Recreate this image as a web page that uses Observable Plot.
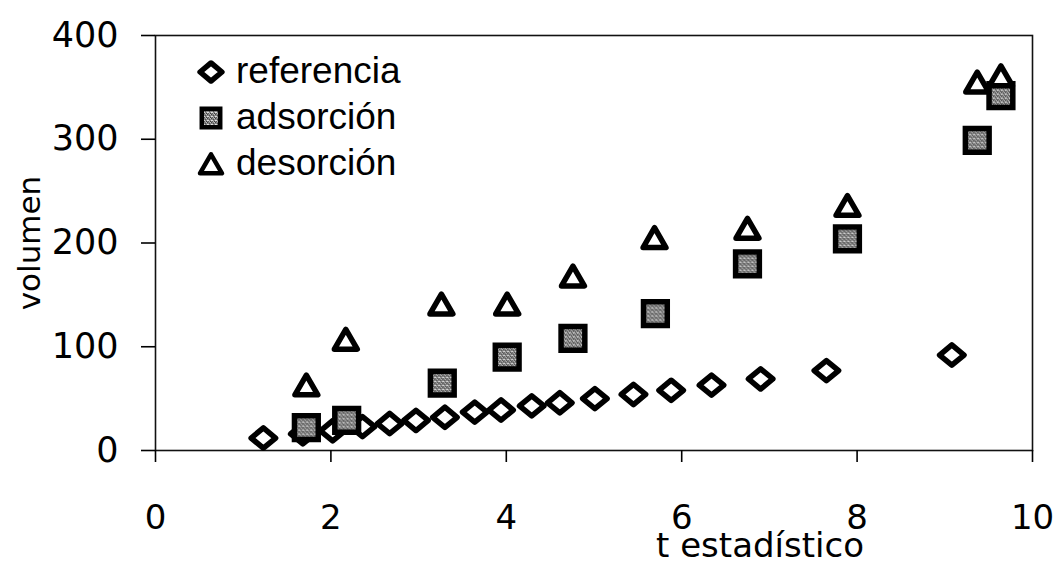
<!DOCTYPE html>
<html>
<head>
<meta charset="utf-8">
<script src="https://cdn.jsdelivr.net/npm/d3@7"></script>
<script src="https://cdn.jsdelivr.net/npm/@observablehq/plot@0.6"></script>
<style>
  html, body { margin: 0; padding: 0; background: #fff; }
  #chart { width: 1055px; height: 566px; }
</style>
</head>
<body>
<div id="chart"></div>
<script>
// t estadístico vs volumen, three series
const referenciaT = [1.23, 1.68, 2.02, 2.36, 2.67, 2.97, 3.30, 3.64, 3.94, 4.29, 4.61, 5.01, 5.45, 5.88, 6.34, 6.90, 7.65, 9.08];
const referenciaV = [12, 16, 19, 23, 26, 29, 32, 37, 39, 43, 46, 50, 54, 58, 63, 69, 77, 92];

const adsorcionT = [1.72, 2.18, 3.27, 4.01, 4.76, 5.70, 6.75, 7.89, 9.37, 9.64];
const adsorcionV = [22, 29, 65, 90, 108, 132, 180, 204, 299, 342];

const desorcionT = [1.72, 2.17, 3.26, 4.01, 4.76, 5.69, 6.75, 7.89, 9.37, 9.64];
const desorcionV = [60, 104, 138, 138, 165, 202, 211, 233, 352, 358];

const seriesNames = ["referencia", "adsorción", "desorción"];
const xTicks = [0, 2, 4, 6, 8, 10];
const yTicks = [0, 100, 200, 300, 400];
const xTitle = "t estadístico";
const yTitle = "volumen";

const toRows = (name, ts, vs) => ts.map((t, i) => ({serie: name, t, v: vs[i]}));
const referencia = toRows(seriesNames[0], referenciaT, referenciaV);
const adsorcion = toRows(seriesNames[1], adsorcionT, adsorcionV);
const desorcion = toRows(seriesNames[2], desorcionT, desorcionV);

// a rhombus slightly wider than tall
const wideDiamond = {
  draw(context, size) {
    const s = Math.sqrt(size);
    const w = s * 0.69, h = s * 0.57;
    context.moveTo(0, -h);
    context.lineTo(w, 0);
    context.lineTo(0, h);
    context.lineTo(-w, 0);
    context.closePath();
  }
};

const tickFont = "'DejaVu Sans', sans-serif";
const titleFont = "'DejaVu Sans', sans-serif";

const plot = Plot.plot({
  width: 1055,
  height: 566,
  marginLeft: 155,
  marginRight: 23,
  marginTop: 35,
  marginBottom: 116,
  style: {background: "#fff", color: "#000", overflow: "visible"},
  x: {domain: [0, 10]},
  y: {domain: [0, 400]},
  marks: [
    Plot.frame({stroke: "#111", strokeWidth: 1.6}),
    Plot.axisY({
      ticks: yTicks, tickSize: 14, tickPadding: 23, tickFormat: d => String(d),
      label: null, fontSize: 35, fontFamily: tickFont, strokeWidth: 1.6
    }),
    Plot.axisX({
      ticks: xTicks, tickSize: 12, tickPadding: 42, tickFormat: d => String(d),
      label: null, fontSize: 34, fontFamily: tickFont, strokeWidth: 1.6
    }),
    Plot.text([xTitle], {
      frameAnchor: "bottom", textAnchor: "middle", lineAnchor: "middle",
      dx: 166, dy: 96, fontSize: 34, letterSpacing: 2, fontFamily: titleFont, fill: "#000"
    }),
    Plot.text([yTitle], {
      frameAnchor: "left", textAnchor: "middle", lineAnchor: "middle", rotate: -90,
      dx: -125, fontSize: 31, fontFamily: titleFont, fill: "#000"
    }),
    Plot.dot(referencia, {
      x: "t", y: "v", symbol: wideDiamond, r: 10,
      stroke: "#000", strokeWidth: 5.5, fill: "#fff", strokeLinejoin: "round"
    }),
    Plot.dot(adsorcion, {
      x: "t", y: "v", symbol: "square", r: 13.4,
      stroke: "#000", strokeWidth: 5.5, fill: "url(#grain)", strokeLinejoin: "miter"
    }),
    Plot.dot(desorcion, {
      x: "t", y: "v", symbol: "triangle", r: 8.5,
      stroke: "#000", strokeWidth: 5.5, fill: "#fff", strokeLinejoin: "round"
    })
  ]
});

const svg = d3.select(plot);

// stippled grey fill used by the adsorción squares
svg.insert("defs", ":first-child").html(`
  <pattern id="grain" width="4" height="4" patternUnits="userSpaceOnUse">
    <rect width="4" height="4" fill="#858585"/>
    <rect x="0" y="0" width="1" height="1" fill="#3f3f3f"/>
    <rect x="2" y="1" width="1" height="1" fill="#4a4a4a"/>
    <rect x="1" y="2" width="1" height="1" fill="#d6d6d6"/>
    <rect x="3" y="3" width="1" height="1" fill="#3a3a3a"/>
    <rect x="3" y="0" width="1" height="1" fill="#c4c4c4"/>
    <rect x="1" y="3" width="1" height="1" fill="#5c5c5c"/>
    <rect x="0" y="2" width="1" height="1" fill="#e2e2e2"/>
    <rect x="2" y="3" width="1" height="1" fill="#b0b0b0"/>
  </pattern>`);

// legend inside the plot area, top left
const legendSymbols = [
  {type: wideDiamond, size: 250, stroke: 5.5, fill: "#fff", join: "round", off: 0},
  {type: d3.symbolSquare, size: 340, stroke: 4.5, fill: "url(#grain)", join: "miter", off: 0},
  {type: d3.symbolTriangle, size: 210, stroke: 4.5, fill: "#fff", join: "round", off: 3}
];
const legend = svg.append("g").attr("transform", "translate(211,72)");
seriesNames.forEach((name, i) => {
  const s = legendSymbols[i];
  const row = legend.append("g").attr("transform", `translate(0,${i * 46})`);
  row.append("path")
    .attr("d", d3.symbol(s.type, s.size)())
    .attr("transform", `translate(0,${s.off})`)
    .attr("fill", s.fill)
    .attr("stroke", "#000")
    .attr("stroke-width", s.stroke)
    .attr("stroke-linejoin", s.join);
  row.append("text")
    .attr("x", 25)
    .attr("dy", "0.31em")
    .attr("text-anchor", "start")
    .attr("font-family", "'Liberation Sans', Arial, sans-serif")
    .attr("font-size", 37)
    .attr("fill", "#000")
    .text(name);
});

document.getElementById("chart").appendChild(plot);
</script>
</body>
</html>
